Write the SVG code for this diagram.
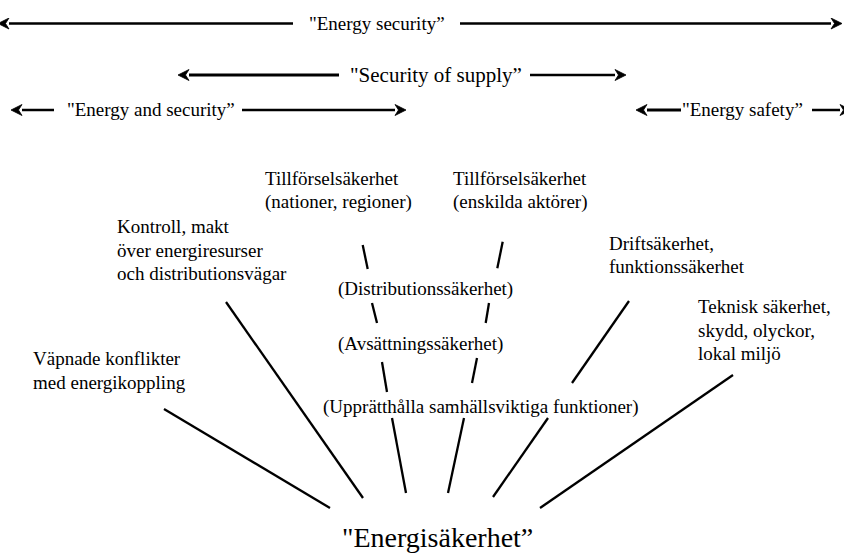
<svg xmlns="http://www.w3.org/2000/svg" width="844" height="553" viewBox="0 0 844 553">
  <style>
    .lbl { font-size: 19px; }
    .scope { font-size: 19px; }
    .big { font-size: 28px; }
    .span { stroke: #000; fill: none; stroke-width: 2.5; }
    .link { stroke: #000; fill: none; stroke-width: 2.3; stroke-linecap: butt; }
  </style>
  <defs>
    <marker id="head" viewBox="0 0 12 12" refX="1" refY="6" markerWidth="12" markerHeight="12" markerUnits="userSpaceOnUse" orient="auto-start-reverse">
      <path d="M12,6 L1,0.5 L4.5,6 L1,11.5 Z" fill="#000" stroke="#000" stroke-width="0.8" stroke-linejoin="miter"/>
    </marker>
  </defs>
  <rect width="844" height="553" fill="#fff"/>

  <g font-family="'Liberation Serif', 'DejaVu Serif', serif" fill="#000">
  <!-- scope spans at the top -->
  <g id="scope-energy-security">
    <line class="span" x1="9" y1="23.5" x2="293" y2="23.5" marker-start="url(#head)"/>
    <line class="span" x1="460" y1="23.5" x2="831" y2="23.5" marker-end="url(#head)"/>
    <text class="scope" x="309" y="30">"Energy security”</text>
  </g>
  <g id="scope-security-of-supply">
    <line class="span" style="stroke-width:3" x1="189" y1="75" x2="339" y2="75" marker-start="url(#head)"/>
    <line class="span" x1="530" y1="75" x2="615" y2="75" marker-end="url(#head)"/>
    <text class="scope" style="font-size:21px" x="350" y="82">"Security of supply”</text>
  </g>
  <g id="scope-energy-and-security">
    <line class="span" x1="22" y1="110" x2="54" y2="110" marker-start="url(#head)"/>
    <line class="span" x1="242" y1="110" x2="395" y2="110" marker-end="url(#head)"/>
    <text class="scope" x="67" y="116">"Energy and security”</text>
  </g>
  <g id="scope-energy-safety">
    <line class="span" style="stroke-width:3" x1="647" y1="110" x2="681" y2="110" marker-start="url(#head)"/>
    <line class="span" x1="812" y1="110" x2="840" y2="110" marker-end="url(#head)"/>
    <text class="scope" x="682" y="116">"Energy safety”</text>
  </g>

  <!-- aspect labels -->
  <g id="supply-nations">
    <text class="lbl" x="265" y="185">Tillförselsäkerhet</text>
    <text class="lbl" x="265" y="208">(nationer, regioner)</text>
  </g>
  <g id="supply-actors">
    <text class="lbl" x="453" y="185">Tillförselsäkerhet</text>
    <text class="lbl" x="453" y="208">(enskilda aktörer)</text>
  </g>
  <g id="control">
    <text class="lbl" x="117" y="233">Kontroll, makt</text>
    <text class="lbl" x="117" y="256.5">över energiresurser</text>
    <text class="lbl" x="117" y="280">och distributionsvägar</text>
  </g>
  <g id="operational">
    <text class="lbl" x="609" y="250">Driftsäkerhet,</text>
    <text class="lbl" x="609" y="273">funktionssäkerhet</text>
  </g>
  <g id="technical">
    <text class="lbl" x="698" y="313">Teknisk säkerhet,</text>
    <text class="lbl" x="698" y="336.5">skydd, olyckor,</text>
    <text class="lbl" x="698" y="360">lokal miljö</text>
  </g>
  <g id="conflicts">
    <text class="lbl" x="33" y="365">Väpnade konflikter</text>
    <text class="lbl" x="33" y="389">med energikoppling</text>
  </g>
  <g id="distribution">
    <text class="lbl" x="338" y="295">(Distributionssäkerhet)</text>
  </g>
  <g id="sales">
    <text class="lbl" x="338" y="350">(Avsättningssäkerhet)</text>
  </g>
  <g id="vital-functions">
    <text class="lbl" x="323" y="413">(Upprätthålla samhällsviktiga funktioner)</text>
  </g>
  <g id="energy-security-core">
    <text class="big" x="342" y="547">"Energisäkerhet”</text>
  </g>
  </g>

  <!-- connectors converging on the core term -->
  <g id="connectors">
    <line class="link" x1="164" y1="409" x2="330" y2="508"/>
    <line class="link" x1="226" y1="302" x2="363" y2="498"/>
    <line class="link" x1="362.7" y1="245" x2="367.7" y2="269"/>
    <line class="link" x1="372" y1="303" x2="377" y2="323"/>
    <line class="link" x1="382" y1="362" x2="387" y2="392"/>
    <line class="link" x1="392" y1="418" x2="406" y2="493"/>
    <line class="link" x1="502.7" y1="241.7" x2="497.3" y2="268.3"/>
    <line class="link" x1="489" y1="303" x2="485.7" y2="323"/>
    <line class="link" x1="477" y1="358" x2="472" y2="383"/>
    <line class="link" x1="464" y1="418" x2="448" y2="493"/>
    <line class="link" x1="629" y1="301" x2="572" y2="383"/>
    <line class="link" x1="548" y1="418" x2="493" y2="497"/>
    <line class="link" x1="733" y1="375" x2="540" y2="508"/>
  </g>
</svg>
